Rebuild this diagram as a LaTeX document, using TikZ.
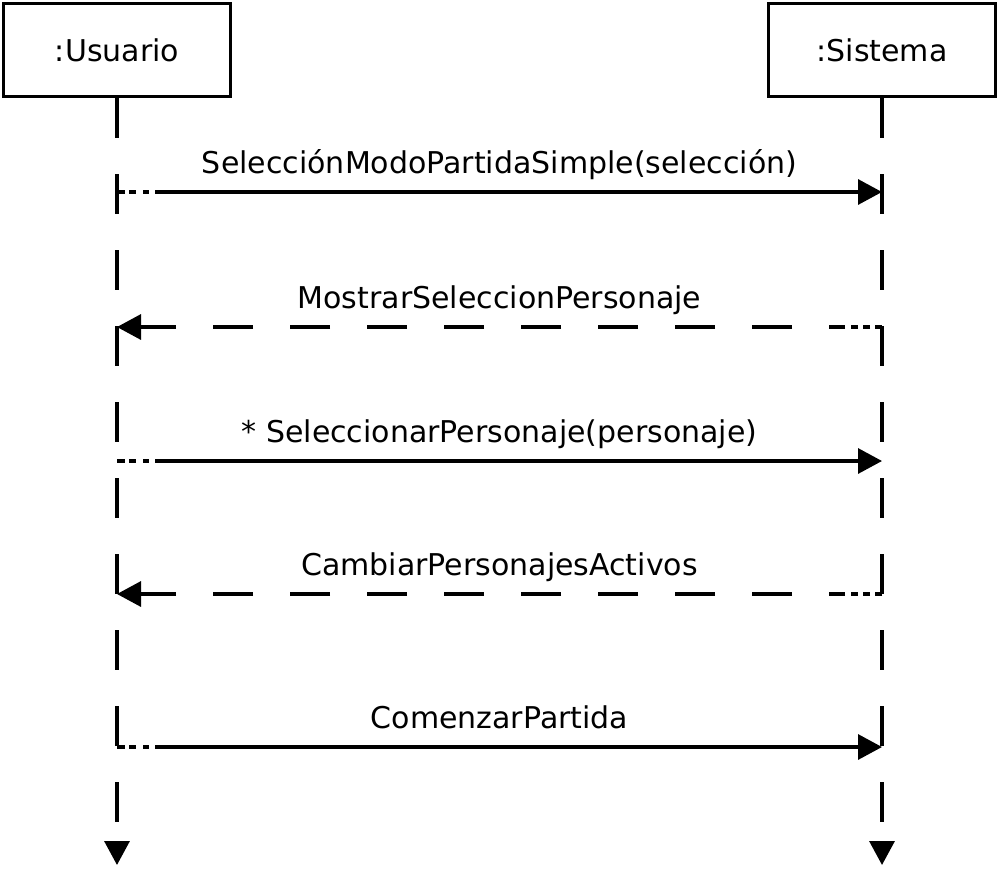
\documentclass[tikz,border=0pt]{standalone}
\usepackage{fontspec}
\setmainfont{DejaVu Sans}
\usetikzlibrary{arrows.meta}

\begin{document}
\begin{tikzpicture}[
    x=0.5pt, y=-0.5pt,
    lifeBox/.style={draw, line width=1.65pt, minimum width=113.5pt, minimum height=46.5pt, inner sep=0pt},
    lifeLine/.style={line width=1.65pt, dash pattern=on 20pt off 18pt, -{Triangle[length=12pt,width=12.5pt]}},
    callMsg/.style={line width=1.65pt,
      dash pattern=on 4pt off 2pt on 3.5pt off 3.5pt on 3pt off 3pt on 600pt off 1pt,
      -{Triangle[length=12pt,width=12.5pt]}},
    returnMsg/.style={line width=1.65pt,
      dash pattern=on 3.5pt off 2.5pt on 3.5pt off 2.5pt on 3.5pt off 3pt on 8pt off 18.5pt
        on 20pt off 18.5pt on 20pt off 18.5pt on 20pt off 18.5pt on 20pt off 18.5pt
        on 20pt off 18.5pt on 20pt off 18.5pt on 20pt off 18.5pt on 20pt off 18.5pt
        on 100pt off 1pt,
      -{Triangle[length=12pt,width=12.5pt]}},
    msgLabel/.style={anchor=base, yshift=9.5pt, inner sep=0pt}
  ]
  \fontsize{15}{18}\selectfont
  \useasboundingbox (0,0) rectangle (1000,868);

  % actors
  \node[lifeBox] at (117,50) (usuario) {:Usuario};
  \node[lifeBox] at (882,50) (sistema) {:Sistema};
  \coordinate (usuarioEnd) at (117,865);
  \coordinate (sistemaEnd) at (882,865);
  \draw[lifeLine] (usuario) -- (usuarioEnd);
  \draw[lifeLine] (sistema) -- (sistemaEnd);

  % message points on both lifelines
  \foreach \i/\y in {1/192, 2/327, 3/461, 4/594, 5/747} {
    \coordinate (u\i) at (117,\y);
    \coordinate (s\i) at (882,\y);
  }

  % calls Usuario -> Sistema
  \foreach \i/\txt in {1/{SelecciónModoPartidaSimple(selección)}, 3/{* SeleccionarPersonaje(personaje)}, 5/{ComenzarPartida}} {
    \draw[callMsg] (u\i) -- node[msgLabel] {\txt} (s\i);
  }
  % answers Sistema -> Usuario
  \foreach \i/\txt in {2/{MostrarSeleccionPersonaje}, 4/{CambiarPersonajesActivos}} {
    \draw[returnMsg] (s\i) -- node[msgLabel] {\txt} (u\i);
  }
\end{tikzpicture}
\end{document}
